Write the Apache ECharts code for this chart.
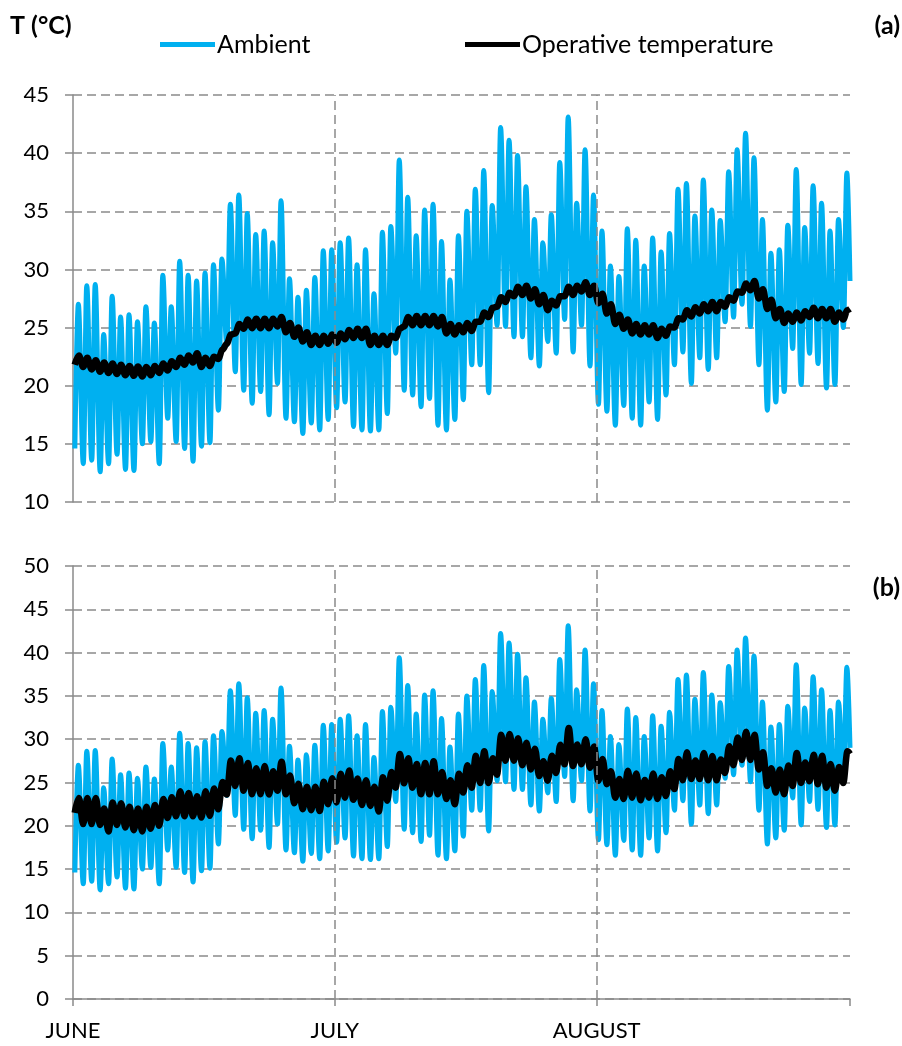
<!DOCTYPE html>
<html>
<head>
<meta charset="utf-8">
<script src="https://cdn.jsdelivr.net/npm/echarts@6/dist/echarts.min.js"></script>
<style>
html,body{margin:0;padding:0;background:#fff;}
#chart{width:902px;height:1046px;}
</style>
</head>
<body>
<div id="chart"></div>
<script>
// ---- data (daily extremes, day 0 = 1 June) ----
const monthNames = ['JUNE', 'JULY', 'AUGUST'];
const monthStarts = [0, 31, 62];
const totalDays = 92;

const ambMax = [27.0,28.6,28.7,24.4,27.7,25.9,26.1,25.5,26.8,25.4,29.5,26.8,30.7,29.5,29.0,
  29.7,30.4,30.9,35.6,36.4,34.8,33.0,33.3,32.3,35.9,29.2,27.6,28.2,29.3,31.6,31.7,
  32.3,32.7,30.4,31.7,27.9,33.2,33.7,39.4,36.2,32.9,35.1,35.6,32.4,29.1,32.9,35.0,
  36.9,38.5,35.5,42.2,41.1,39.8,37.1,34.3,32.3,34.7,39.2,43.1,35.7,40.3,36.4,33.3,
  30.3,29.4,33.5,32.5,30.3,32.7,31.5,33.1,36.9,37.4,34.6,37.7,35.1,34.2,38.4,40.3,
  41.7,39.6,34.3,31.4,31.7,33.8,38.6,33.6,37.2,35.7,33.3,34.3,38.3];
const ambMin = [14.6,13.3,13.6,12.6,13.3,14.1,12.8,12.7,15.0,15.2,13.3,17.2,15.2,14.6,13.5,
  14.8,15.1,17.9,23.5,21.2,19.6,18.5,19.5,17.5,20.2,17.2,16.9,15.9,16.8,16.2,17.1,
  18.1,18.6,16.5,16.2,16.1,16.2,17.6,22.8,19.6,19.2,18.2,18.9,16.6,16.2,17.1,18.8,
  21.8,21.8,19.4,25.2,25.1,24.2,24.2,22.4,21.7,23.8,22.8,25.7,22.9,25.2,21.7,18.4,
  17.8,16.6,18.3,17.2,16.6,18.6,17.1,19.2,21.8,22.9,20.2,22.4,21.4,22.4,25.5,25.9,
  27.0,25.1,21.8,17.9,18.6,19.5,23.2,20.1,22.8,21.9,19.8,20.1,25.0];
const ambEnd = 29.0;

const opAMax = [22.6,22.4,22.2,22.0,21.9,21.8,21.7,21.65,21.6,21.7,21.9,22.1,22.4,22.6,22.8,
  22.4,22.5,23.1,24.4,25.3,25.7,25.75,25.75,25.75,25.9,25.4,25.0,24.6,24.3,24.3,24.4,
  24.5,24.8,24.9,24.9,24.3,24.3,24.3,24.9,25.9,26.0,26.0,26.0,25.9,25.3,25.2,25.4,
  25.5,26.3,26.7,27.6,28.0,28.5,28.6,28.3,27.8,27.3,27.7,28.5,28.6,28.9,28.6,27.9,
  27.0,26.1,25.7,25.3,25.2,25.2,24.9,25.1,25.8,26.5,26.75,27.0,27.2,27.2,27.6,28.1,
  28.8,29.0,28.3,27.4,26.6,26.2,26.3,26.4,26.7,26.6,26.6,26.3,26.5];
const opAMin = [21.8,21.6,21.4,21.2,21.1,21.0,20.9,20.85,20.8,20.9,21.1,21.3,21.6,21.8,22.0,
  21.6,21.7,22.3,23.6,24.5,24.9,24.95,24.95,24.95,25.1,24.6,24.2,23.8,23.5,23.5,23.6,
  23.7,24.0,24.1,24.1,23.5,23.5,23.5,24.1,25.1,25.2,25.2,25.2,25.1,24.5,24.4,24.6,
  24.7,25.5,25.9,26.8,27.2,27.7,27.8,27.5,27.0,26.5,26.9,27.7,27.8,28.1,27.8,27.1,
  26.2,25.3,24.9,24.5,24.4,24.4,24.1,24.3,25.0,25.7,25.95,26.2,26.4,26.4,26.8,27.3,
  28.0,28.2,27.5,26.6,25.8,25.4,25.5,25.6,25.9,25.8,25.8,25.5,25.7];
const opAEnd = 26.6;

const opBMax = [23.2,23.2,23.2,22.0,22.7,22.6,22.2,22.0,22.2,22.4,23.1,23.3,24.0,23.8,23.4,
  24.0,24.3,25.05,27.55,27.8,27.25,26.65,26.9,26.3,27.4,25.8,24.85,24.5,24.5,25.1,25.5,
  26.0,26.4,25.45,25.25,24.5,25.6,26.2,28.3,27.8,27.15,27.25,27.45,26.2,25.25,26.0,27.0,
  28.1,28.6,27.8,30.5,30.6,30.1,29.6,28.9,27.45,28.1,29.35,31.3,29.4,30.0,29.15,27.7,
  26.3,25.4,26.35,26.05,25.3,26.05,25.6,26.3,27.7,28.5,27.55,28.4,28.05,27.65,29.2,30.2,
  30.85,30.5,28.5,26.65,26.5,26.95,28.4,27.3,28.2,28.1,27.15,26.8,28.6];
const opBMin = [21.5,20.2,20.2,20.1,19.35,20.1,19.8,19.5,19.35,19.65,20.0,20.9,21.1,21.1,21.1,
  20.95,21.15,21.9,23.6,24.6,24.05,23.65,23.65,23.6,24.05,23.65,22.6,21.9,21.8,21.7,22.5,
  22.7,23.25,23.0,22.4,22.3,21.65,22.9,24.4,24.9,24.4,23.65,23.65,23.65,23.1,22.5,23.85,
  24.4,24.95,24.95,25.9,27.5,27.5,27.0,26.5,25.75,25.2,26.1,27.1,26.9,27.1,26.7,25.2,
  24.8,23.25,23.1,23.25,22.95,23.25,23.1,23.45,24.25,25.25,25.4,25.4,25.25,25.25,26.1,27.0,
  27.6,27.6,26.5,24.6,23.85,23.65,24.6,24.95,25.15,24.8,24.4,24.05,24.95];
const opBEnd = 28.3;

// ---- build [x, y] pairs: minimum in the early morning, maximum in the afternoon ----
function daily(minArr, maxArr, tMin, tMax, endVal) {
  const out = [];
  for (let d = 0; d < minArr.length; d++) {
    out.push([d + tMin, minArr[d]]);
    out.push([d + tMax, maxArr[d]]);
  }
  out.push([totalDays, endVal]);
  return out;
}
const ambData = daily(ambMin, ambMax, 0.22, 0.63, ambEnd);
const opAData = daily(opAMin, opAMax, 0.2, 0.7, opAEnd);
const opBData = daily(opBMin, opBMax, 0.2, 0.7, opBEnd);

const FONT = 'Lato';
const GRID_GRAY = '#8a8a8a';
const BLUE = '#00B0F0';

const chart = echarts.init(document.getElementById('chart'), null, {renderer: 'canvas'});

function yAxis(grid, min, max) {
  return {
    type: 'value', gridIndex: grid, min: min, max: max, interval: 5,
    axisLine: {show: true, lineStyle: {color: GRID_GRAY, width: 1.5}},
    axisTick: {show: true, length: 8, lineStyle: {color: GRID_GRAY, width: 1.5}},
    axisLabel: {color: '#000', fontFamily: FONT, fontSize: 22, margin: 24},
    splitLine: {show: true, lineStyle: {color: GRID_GRAY, width: 1.5, type: [9, 5]}}
  };
}
function monthLines(xi, yi) {
  return {
    type: 'line', xAxisIndex: xi, yAxisIndex: yi, data: [], z: 1, silent: true,
    markLine: {
      silent: true, symbol: ['none', 'none'], label: {show: false},
      lineStyle: {color: GRID_GRAY, width: 1.5, type: [9, 5]},
      data: monthStarts.slice(1).map(v => ({xAxis: v}))
    }
  };
}
const lineCommon = {type: 'line', showSymbol: false, smooth: 0.35, smoothMonotone: 'x', animation: false};
const titleStyle = {fontFamily: FONT, fontSize: 25, fontWeight: 'bold', color: '#000'};

const option = {
  animation: false,
  backgroundColor: '#fff',
  title: [
    {text: 'T (°C)', left: 10, top: 13, padding: 0, textStyle: titleStyle},
    {text: '(a)', right: 2, top: 13, padding: 0, textStyle: titleStyle},
    {text: '(b)', right: 2, top: 575, padding: 0, textStyle: titleStyle}
  ],
  legend: [
    {data: ['Ambient'], left: 155, top: 27, icon: 'rect', itemWidth: 55, itemHeight: 5, itemGap: 0,
     textStyle: {fontFamily: FONT, fontSize: 25, color: '#000', padding: [0, 0, 0, -3]}},
    {data: ['Operative temperature'], left: 460, top: 27, icon: 'rect', itemWidth: 55, itemHeight: 5, itemGap: 0,
     textStyle: {fontFamily: FONT, fontSize: 25, color: '#000', padding: [0, 0, 0, -3]}}
  ],
  grid: [
    {left: 73, width: 777, top: 95, height: 407},
    {left: 73, width: 777, top: 566, height: 433}
  ],
  xAxis: [
    {type: 'value', gridIndex: 0, min: 0, max: totalDays, interval: 31,
     axisLine: {show: false}, axisTick: {show: false}, axisLabel: {show: false}, splitLine: {show: false}},
    {type: 'value', gridIndex: 1, min: 0, max: totalDays, interval: 31,
     axisLine: {show: true, onZero: false, lineStyle: {color: GRID_GRAY, width: 1.5}},
     axisTick: {show: true, length: 7, lineStyle: {color: GRID_GRAY, width: 1.5}},
     axisLabel: {color: '#000', fontFamily: FONT, fontSize: 22, margin: 21,
       formatter: v => { const i = monthStarts.indexOf(v); return i >= 0 ? monthNames[i] : ''; }},
     splitLine: {show: false}}
  ],
  yAxis: [yAxis(0, 10, 45), yAxis(1, 0, 50)],
  series: [
    monthLines(0, 0),
    monthLines(1, 1),
    Object.assign({}, lineCommon, {name: 'Ambient', xAxisIndex: 0, yAxisIndex: 0, data: ambData, z: 2,
      itemStyle: {color: BLUE}, lineStyle: {color: BLUE, width: 5}}),
    Object.assign({}, lineCommon, {name: 'Operative temperature', xAxisIndex: 0, yAxisIndex: 0, data: opAData, z: 3,
      itemStyle: {color: '#000'}, lineStyle: {color: '#000', width: 6.5}}),
    Object.assign({}, lineCommon, {name: 'Ambient', xAxisIndex: 1, yAxisIndex: 1, data: ambData, z: 2,
      itemStyle: {color: BLUE}, lineStyle: {color: BLUE, width: 5}}),
    Object.assign({}, lineCommon, {name: 'Operative temperature', xAxisIndex: 1, yAxisIndex: 1, data: opBData, z: 3,
      itemStyle: {color: '#000'}, lineStyle: {color: '#000', width: 6.5}})
  ]
};
chart.setOption(option);
</script>
</body>
</html>
